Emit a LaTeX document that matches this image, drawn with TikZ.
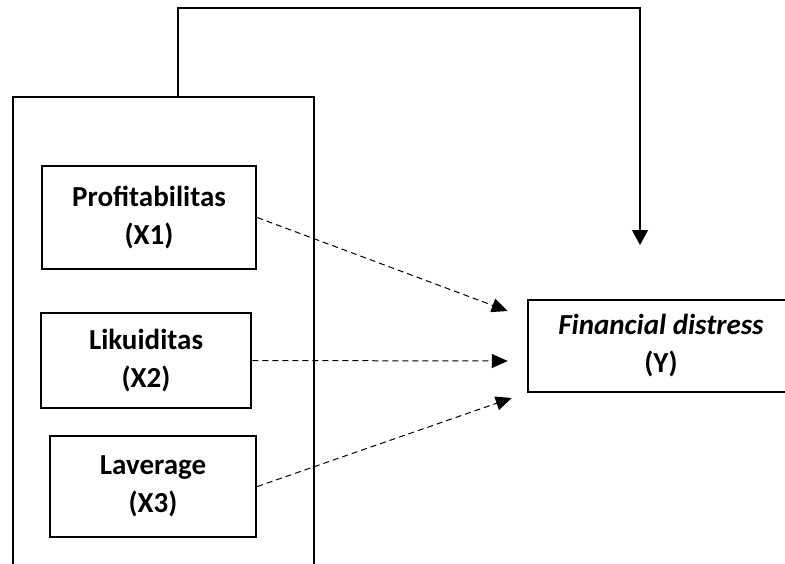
\documentclass[tikz,border=0pt]{standalone}
\usepackage{fontspec}
\setmainfont{Carlito}
\usetikzlibrary{arrows.meta}
\begin{document}
\begin{tikzpicture}[x=0.5pt,y=-0.5pt]
    \tikzstyle{var} = [draw, line width=1.25pt, align=center, font=\fontsize{14.5}{19}\selectfont\bfseries]
    \tikzstyle{grp} = [draw, line width=1.3pt]
    \tikzstyle{eff} = [dashed, dash pattern=on 3pt off 2pt, line width=0.5pt, -{Triangle[length=8pt,width=7pt]}]
    \tikzstyle{fb} = [line width=0.6pt, -{Triangle[length=7.5pt,width=8pt]}]
        \clip (0,0) rectangle (785,563);
        % group box
        \node[grp, minimum width=150.5pt, minimum height=241.5pt] (grp) at (163.5,338.5) {};
        % variables
        \node[var, minimum width=107pt, minimum height=51.5pt] (x1) at (149,217.5) {Profitabilitas\\(X1)};
        \node[var, minimum width=105pt, minimum height=47.5pt] (x2) at (146,360.5) {Likuiditas\\(X2)};
        \node[var, minimum width=103pt, minimum height=50.5pt] (x3) at (153,486.5) {Laverage\\(X3)};
        \node[var, minimum width=133pt, minimum height=46pt] (y) at (661,346) {\textit{Financial distress}\\(Y)};
        % effects
        \draw[eff] (x1.east) -- ([shift={(-19,-35)}]y.west);
        \draw[eff] (x2.east) -- ([shift={(-19,15)}]y.west);
        \draw[eff] (x3.east) -- ([shift={(-15,52)}]y.west);
        % simultaneous
        \coordinate (top) at (178,8);
        \coordinate (tip) at (640,245);
        \draw[fb] (grp.north -| top) -- (top) -| (tip);
    \end{tikzpicture}
\end{document}
